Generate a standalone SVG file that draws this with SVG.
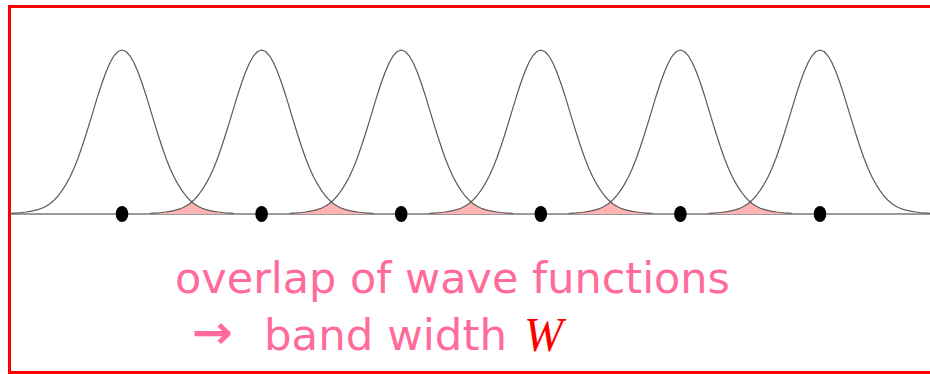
<svg xmlns="http://www.w3.org/2000/svg" xmlns:xlink="http://www.w3.org/1999/xlink" width="930" height="374" viewBox="0 0 930 374">
<style>
.frame{fill:none;stroke:#ff0000;stroke-width:3}
.axis{stroke:#9a9a9a;stroke-width:2;fill:none}
.wave{fill:none;stroke:#5a5a5a;stroke-width:1.2;stroke-linejoin:round}
.ov{fill:#ffb3b3;stroke:none}
.dot{fill:#000}
.lbl{font-family:"DejaVu Sans","Liberation Sans",sans-serif;font-size:43px;fill:#ff6b9a}
.arr{font-family:"DejaVu Sans",sans-serif;font-size:46px;font-weight:bold;fill:#ff6b9a}
.w{font-family:"Liberation Serif","Times New Roman",serif;font-style:italic;font-size:48px;fill:#ff0000}
</style>
<defs>
<path id="g" d="M-112,-0.5 L-108,-0.8 L-104,-1.1 L-100,-1.5 L-96,-2 L-92,-2.6 L-88,-3.4 L-84,-4.4 L-80,-5.8 L-76,-7.7 L-72,-10.3 L-68,-13.7 L-64,-18 L-60,-23.4 L-56,-29.6 L-52,-37 L-48,-45.8 L-44,-55.8 L-40,-67.2 L-36,-79.5 L-32,-92.4 L-28,-105.6 L-24,-118.8 L-20,-131 L-16,-142 L-12,-151.2 L-8,-158.2 L-4,-162.5 L0,-164 L4,-162.5 L8,-158.2 L12,-151.2 L16,-142 L20,-131 L24,-118.8 L28,-105.6 L32,-92.4 L36,-79.5 L40,-67.2 L44,-55.8 L48,-45.8 L52,-37 L56,-29.6 L60,-23.4 L64,-18 L68,-13.7 L72,-10.3 L76,-7.7 L80,-5.8 L84,-4.4 L88,-3.4 L92,-2.6 L96,-2 L100,-1.5 L104,-1.1 L108,-0.8 L112,-0.5"/>
<path id="o" d="M-42.2,0 L-42.2,-0.5 L-38.2,-0.8 L-34.2,-1.1 L-30.2,-1.5 L-26.2,-2 L-22.2,-2.6 L-18.2,-3.4 L-14.2,-4.4 L-10.2,-5.8 L-6.2,-7.7 L-2.2,-10.3 L0,-12 L2.2,-10.3 L6.2,-7.7 L10.2,-5.8 L14.2,-4.4 L18.2,-3.4 L22.2,-2.6 L26.2,-2 L30.2,-1.5 L34.2,-1.1 L38.2,-0.8 L42.2,-0.5 L42.2,0 Z"/>
</defs>
<rect class="frame" x="9.5" y="6.5" width="930" height="366"/>
<g id="connectors">
<line class="axis" x1="11" y1="214" x2="930" y2="214"/>
</g>
<g id="overlaps">
<use xlink:href="#o" class="ov" transform="translate(191.8,214)"/>
<use xlink:href="#o" class="ov" transform="translate(331.4,214)"/>
<use xlink:href="#o" class="ov" transform="translate(471,214)"/>
<use xlink:href="#o" class="ov" transform="translate(610.6,214)"/>
<use xlink:href="#o" class="ov" transform="translate(750.2,214)"/>
</g>
<g id="wave1"><use xlink:href="#g" class="wave" transform="translate(122,214)"/><ellipse class="dot" cx="122" cy="214" rx="6.3" ry="8"/></g>
<g id="wave2"><use xlink:href="#g" class="wave" transform="translate(261.6,214)"/><ellipse class="dot" cx="261.6" cy="214" rx="6.3" ry="8"/></g>
<g id="wave3"><use xlink:href="#g" class="wave" transform="translate(401.2,214)"/><ellipse class="dot" cx="401.2" cy="214" rx="6.3" ry="8"/></g>
<g id="wave4"><use xlink:href="#g" class="wave" transform="translate(540.8,214)"/><ellipse class="dot" cx="540.8" cy="214" rx="6.3" ry="8"/></g>
<g id="wave5"><use xlink:href="#g" class="wave" transform="translate(680.4,214)"/><ellipse class="dot" cx="680.4" cy="214" rx="6.3" ry="8"/></g>
<g id="wave6"><use xlink:href="#g" class="wave" transform="translate(820,214)"/><ellipse class="dot" cx="820" cy="214" rx="6.3" ry="8"/></g>
<g id="caption">
<text class="lbl" x="175" y="293" textLength="555" lengthAdjust="spacingAndGlyphs">overlap of wave functions</text>
<text class="arr" x="192" y="348" textLength="41" lengthAdjust="spacingAndGlyphs">→</text>
<text class="lbl" x="264" y="350" textLength="243" lengthAdjust="spacingAndGlyphs">band width</text>
<text class="w" x="524" y="351" textLength="39" lengthAdjust="spacingAndGlyphs">W</text>
</g>
</svg>
